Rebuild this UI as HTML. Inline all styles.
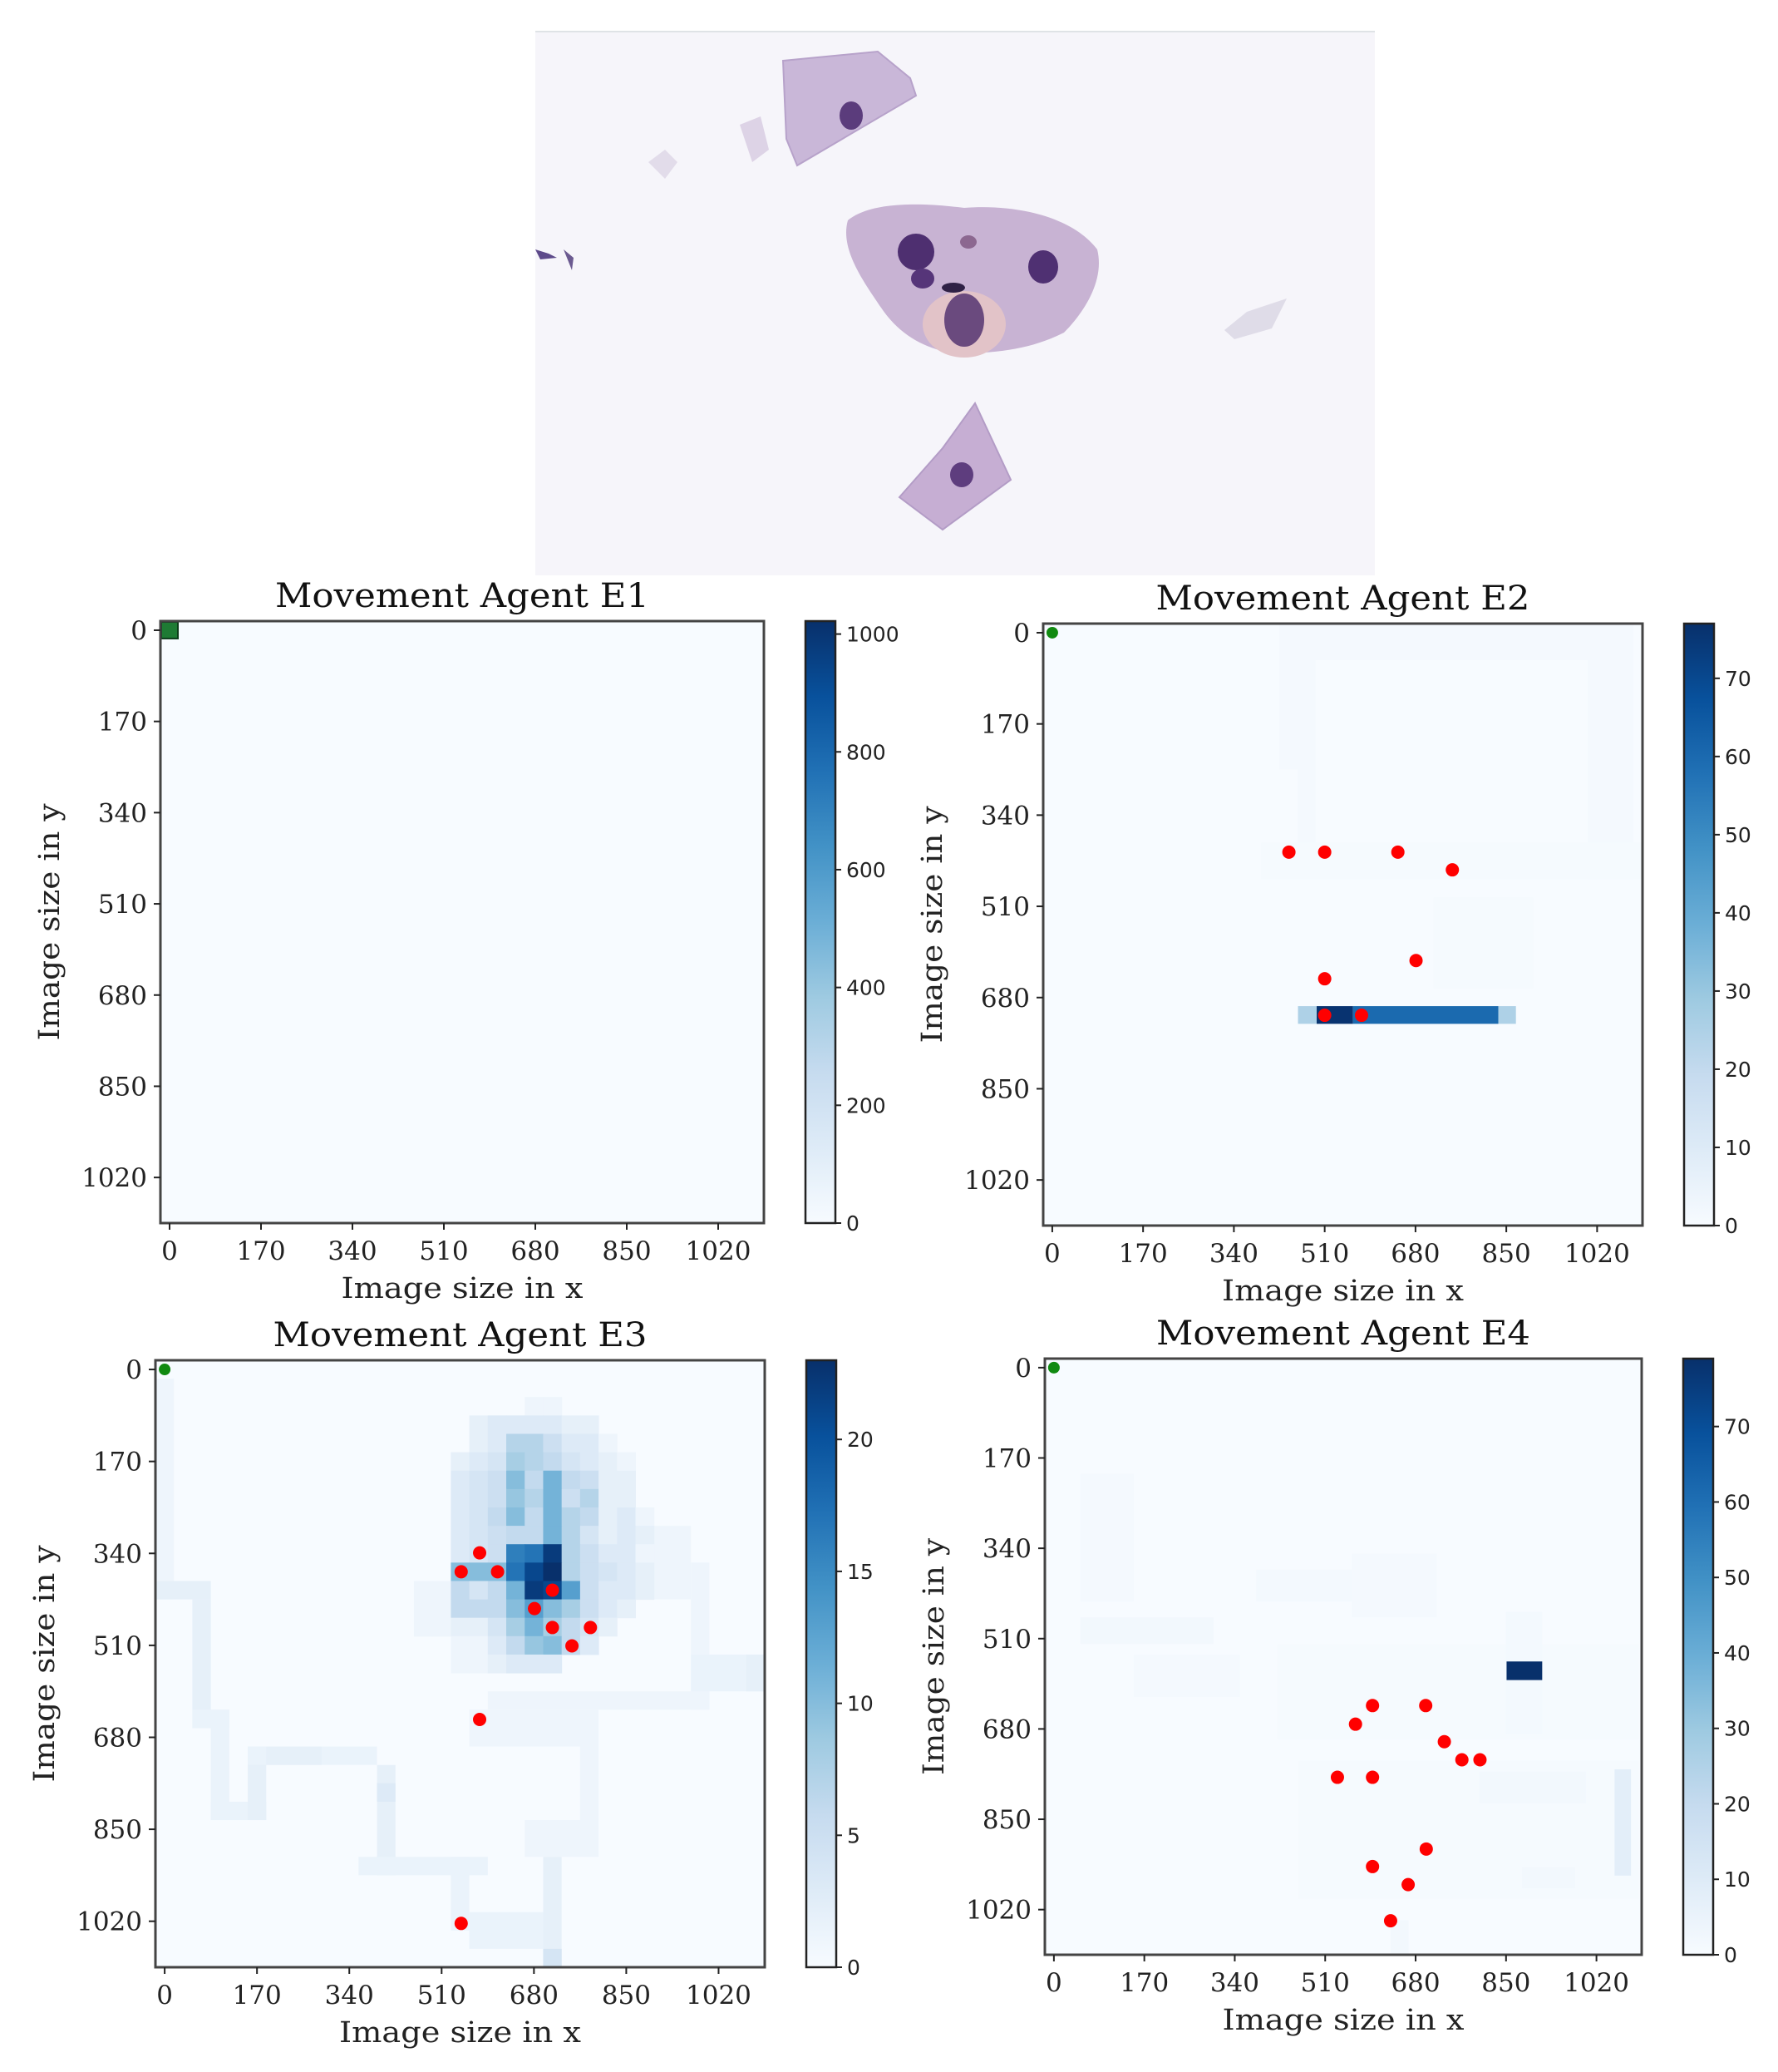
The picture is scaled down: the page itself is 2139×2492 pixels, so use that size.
<!DOCTYPE html>
<html><head><meta charset="utf-8"><style>
html,body{margin:0;padding:0;background:#fff;}
svg{display:block;}
</style></head><body>
<svg id="root" width="2139" height="2492" viewBox="0 0 2139 2492" xmlns="http://www.w3.org/2000/svg">
<g>
  <rect x="644" y="38" width="1010" height="654" fill="#f6f5fa"/>
  <line x1="644" y1="38" x2="1654" y2="38" stroke="#dfe3e6" stroke-width="2"/>
  <polygon points="942,73 1056,62 1095,94 1102,115 959,199 946,167" fill="#c9b7d8" stroke="#b7a2ca" stroke-width="2"/>
  <ellipse cx="1024" cy="139" rx="14" ry="17" fill="#5b3c7c"/>
  <polygon points="890,150 915,140 925,180 905,195" fill="#ddd3e6"/>
  <path d="M1020,265 C1050,240 1120,245 1160,250 C1220,245 1290,260 1320,300 C1330,340 1300,380 1280,400 C1240,420 1200,425 1150,425 C1110,420 1080,400 1060,370 C1040,340 1010,300 1020,265 Z" fill="#c8b3d3"/>
  <ellipse cx="1160" cy="390" rx="50" ry="40" fill="#e2c3c8"/>
  <ellipse cx="1102" cy="303" rx="22" ry="22" fill="#4e2f70"/>
  <ellipse cx="1110" cy="335" rx="14" ry="12" fill="#563579"/>
  <ellipse cx="1255" cy="321" rx="18" ry="20" fill="#4f3072"/>
  <ellipse cx="1160" cy="385" rx="24" ry="32" fill="#6a4a7e"/>
  <ellipse cx="1147" cy="346" rx="14" ry="6" fill="#2f2145"/>
  <ellipse cx="1165" cy="291" rx="10" ry="8" fill="#8c6890"/>
  <polygon points="1082,598 1134,539 1173,485 1216,577 1134,637" fill="#c6aed3" stroke="#b39cc6" stroke-width="2"/>
  <ellipse cx="1157" cy="571" rx="14" ry="15" fill="#5e3d7e"/>
  <polygon points="1473,397 1500,375 1548,359 1530,395 1485,408" fill="#dfdce8"/>
  <polygon points="644,300 660,305 670,310 650,312" fill="#5d4a8a"/>
  <polygon points="678,300 690,310 688,325" fill="#6b5a90"/>
  <polygon points="780,195 800,180 815,195 800,215" fill="#e2dcea"/>
</g>
<g id="plots"></g>
</svg>
<script>
// ---------------- data ----------------
const xTicks = [0,170,340,510,680,850,1020];
const yTicks = [0,170,340,510,680,850,1020];
const e1Ticks = [0,200,400,600,800,1000];
const e2Ticks = [0,10,20,30,40,50,60,70];
const e3Ticks = [0,5,10,15,20];
const e4Ticks = [0,10,20,30,40,50,60,70];
const e1Max = 1022, e2Max = 77, e3Max = 23, e4Max = 79;

// E2 rectangles in data units [x0,y0,x1,y1,value]
const e2Rects = [
  [425,-17,1070,51,1],[425,-17,493,255,1],[459,255,493,391,1],[1003,-17,1088,459,1],
  [391,391,1105,459,0.8],[714,493,900,663,0.7],
  [460,696,495,729,25],[495,696,563,729,76],[563,696,835,729,60],[835,696,868,729,25]
];
const e2DotsX = [443,510,647,749,681,510,510,579];
const e2DotsY = [409,409,409,442,611,645,713,713];

// E3 blob rows: [row, startCol, values...] (cell units of 34)
const e3Rows = [
  [2,20,1,1],
  [3,17,2,3,3,3,3,2,2],
  [4,17,2,3,7,7,5,3,3,1],
  [5,16,2,3,4,8,7,6,4,3,2,1],
  [6,16,3,4,5,10,6,11,6,5,2,2],
  [7,16,3,4,5,9,7,11,5,7,2,2],
  [8,16,3,4,6,10,6,11,7,6,2,3,1],
  [9,16,3,4,5,6,6,11,7,4,2,3,2],
  [10,16,3,4,5,16,17,22,7,5,3,3,1],
  [11,16,10,10,10,17,21,23,7,5,4,3,2],
  [12,14,1,1,6,4,6,11,22,21,13,5,3,3,2],
  [13,16,6,6,6,10,13,10,8,5,3,2],
  [14,14,1,1,2,2,4,8,11,8,6,4,2],
  [15,16,1,1,3,6,9,10,6,3],
  [16,16,1,1,2,3,3,3]
];
// E3 faint path segments [c0,r0,c1,r1,value] (inclusive cells)
const e3Paths = [
  [0,1,0,12,1],[0,12,2,12,2],[2,13,2,19,2],[2,19,3,19,1.5],[3,19,3,24,1.5],[3,24,5,24,1.5],
  [5,21,5,24,2],[5,21,11,21,1.5],[6,21,8,21,2],[12,22,12,27,2],[12,23,12,23,3],[11,27,17,27,1.5],
  [16,27,16,30,1.5],[17,30,20,31,1.5],[21,27,21,32,2],[21,32,21,32,4],[17,19,23,20,1],
  [23,19,23,26,1],[20,25,23,26,1],[29,11,29,18,1],[18,18,29,18,1],[29,16,32,17,1.5],
  [32,16,32,17,2],[14,12,15,14,1],[27,9,28,12,1]
];
const e3DotsX = [580,546,613,714,681,714,784,750,580,546];
const e3DotsY = [339,374,374,408,442,477,477,511,647,1024];

// E4 rectangles in data units [x0,y0,x1,y1,value]
const e4Rects = [
  [50,200,150,440,1],[50,470,300,520,2],[380,380,620,440,1.5],[560,350,720,470,1],
  [420,520,1100,700,0.8],[850,460,918,690,1.5],[150,540,350,620,1],
  [460,740,1100,1000,0.8],[1054,756,1085,956,8],[800,760,1000,820,2],
  [633,1040,667,1105,2],[880,940,980,980,2]
];
const e4Block = [851,553,918,588,79];
const e4DotsX = [599,699,567,734,767,801,533,599,700,599,666,633];
const e4DotsY = [636,636,671,704,738,738,771,771,906,939,973,1041];

// ---------------- rendering ----------------
const NS = 'http://www.w3.org/2000/svg';
const SERIF = '"DejaVu Serif",serif';
const blues = ['#f7fbff','#deebf7','#c6dbef','#9ecae1','#6baed6','#4292c6','#2171b5','#08519c','#08306b'];
function hex(h){return [parseInt(h.slice(1,3),16),parseInt(h.slice(3,5),16),parseInt(h.slice(5,7),16)];}
function cmap(t){
  t=Math.max(0,Math.min(1,t));
  const p=t*8, i=Math.min(7,Math.floor(p)), f=p-i;
  const a=hex(blues[i]), b=hex(blues[i+1]);
  return 'rgb('+a.map((v,k)=>Math.round(v+(b[k]-v)*f)).join(',')+')';
}
function mk(tag, attrs, parent){
  const e=document.createElementNS(NS,tag);
  for(const k in attrs) e.setAttribute(k,attrs[k]);
  parent.appendChild(e); return e;
}
const plots = document.getElementById('plots');
const DMIN=-17, DMAX=1105;

function drawPlot(cfg){
  const g = mk('g',{},plots);
  
  
  const L=cfg.l,T=cfg.t,W=cfg.w,H=cfg.h;
  const sx=v=>L+(v-DMIN)/(DMAX-DMIN)*W;
  const sy=v=>T+(v-DMIN)/(DMAX-DMIN)*H;
  const bg = mk('rect',{x:L,y:T,width:W,height:H,fill:cmap(0)},g);
  
  
  const hm = mk('g',{},g);
  
  
  (cfg.rects||[]).forEach(r=>{
    const c = mk('rect',{x:sx(r[0]),y:sy(r[1]),width:sx(r[2])-sx(r[0]),height:sy(r[3])-sy(r[1]),fill:cmap(r[4]/cfg.max)},hm);
    
    
  });
  (cfg.paths||[]).forEach(p=>{
    const c = mk('rect',{x:sx(p[0]*34-17),y:sy(p[1]*34-17),width:sx((p[2]+1)*34-17)-sx(p[0]*34-17),height:sy((p[3]+1)*34-17)-sy(p[1]*34-17),fill:cmap(p[4]/cfg.max)},hm);
    
    
  });
  (cfg.rows||[]).forEach(r=>{
    const row=r[0], c0=r[1];
    for(let i=2;i<r.length;i++){
      const col=c0+i-2;
      const c = mk('rect',{x:sx(col*34-17),y:sy(row*34-17),width:sx(col*34+17)-sx(col*34-17)+0.5,height:sy(row*34+17)-sy(row*34-17)+0.5,fill:cmap(r[i]/cfg.max)},hm);
      
      
    }
  });
  if(cfg.bigStart){
    const s = mk('rect',{x:sx(-17)+1,y:sy(-17)+1,width:sx(17)-sx(-17)-2,height:sy(17)-sy(-17)-2,fill:'#1e7b34',stroke:'#0c3d1a','stroke-width':2},g);
    
    
  } else {
    const s = mk('circle',{cx:sx(0),cy:sy(0),r:7,fill:'#118a11'},g);
    
    
  }
  (cfg.dx||[]).forEach((x,i)=>{
    const d = mk('circle',{cx:sx(x),cy:sy(cfg.dy[i]),r:8,fill:'#ff0000'},g);
    
    
  });
  const fr = mk('rect',{x:L,y:T,width:W,height:H,fill:'none',stroke:'#444','stroke-width':3},g);
  
  
  xTicks.forEach(v=>{
    const x=sx(v);
    const tk = mk('line',{x1:x,y1:T+H,x2:x,y2:T+H+8,stroke:'#222','stroke-width':2},g);
    
    
    const tl = mk('text',{x:x,y:T+H+44,'text-anchor':'middle','font-family':SERIF,'font-size':31,fill:'#222'},g);
    tl.textContent=v;
    
    
  });
  yTicks.forEach(v=>{
    const y=sy(v);
    const tk = mk('line',{x1:L-8,y1:y,x2:L,y2:y,stroke:'#222','stroke-width':2},g);
    
    
    const tl = mk('text',{x:L-16,y:y+11,'text-anchor':'end','font-family':SERIF,'font-size':31,fill:'#222'},g);
    tl.textContent=v;
    
    
  });
  const xl = mk('text',{x:L+W/2,y:T+H+90,'text-anchor':'middle','font-family':SERIF,'font-size':35,fill:'#222',textLength:291,lengthAdjust:'spacingAndGlyphs'},g);
  xl.textContent='Image size in x';
  
  
  const yx=L-122, yy=T+H/2;
  const yl = mk('text',{x:yx,y:yy,'text-anchor':'middle','font-family':SERIF,'font-size':35,fill:'#222',transform:'rotate(-90 '+yx+' '+yy+')',textLength:285,lengthAdjust:'spacingAndGlyphs'},g);
  yl.textContent='Image size in y';
  
  
  const ti = mk('text',{x:L+W/2,y:T-17,'text-anchor':'middle','font-family':SERIF,'font-size':40,fill:'#111',textLength:450,lengthAdjust:'spacingAndGlyphs'},g);
  ti.textContent=cfg.title;
  
  
  const CL=L+W+50, CW=36;
  const gid='grad-'+cfg.name;
  const defs = mk('defs',{},g);
  const lg = mk('linearGradient',{id:gid,x1:0,y1:1,x2:0,y2:0},defs);
  blues.forEach((c,i)=>mk('stop',{offset:(i/8),'stop-color':c},lg));
  const cb = mk('rect',{x:CL,y:T,width:CW,height:H,fill:'url(#'+gid+')',stroke:'#222','stroke-width':2.5},g);
  
  
  cfg.cticks.forEach(v=>{
    const y=T+H-v/cfg.max*H;
    const tk = mk('line',{x1:CL+CW,y1:y,x2:CL+CW+7,y2:y,stroke:'#222','stroke-width':2},g);
    
    
    const tl = mk('text',{x:CL+CW+13,y:y+9,'font-family':'"DejaVu Sans",sans-serif','font-size':25,fill:'#222'},g);
    tl.textContent=v;
    
    
  });
}

drawPlot({name:'movement-agent-e1',title:'Movement Agent E1',l:193,t:747,w:726,h:724,max:e1Max,cticks:e1Ticks,rects:[],bigStart:true});
drawPlot({name:'movement-agent-e2',title:'Movement Agent E2',l:1255,t:750,w:721,h:724,max:e2Max,cticks:e2Ticks,rects:e2Rects,dx:e2DotsX,dy:e2DotsY});
drawPlot({name:'movement-agent-e3',title:'Movement Agent E3',l:187,t:1636,w:733,h:730,max:e3Max,cticks:e3Ticks,rows:e3Rows,paths:e3Paths,dx:e3DotsX,dy:e3DotsY});
drawPlot({name:'movement-agent-e4',title:'Movement Agent E4',l:1257,t:1634,w:718,h:717,max:e4Max,cticks:e4Ticks,rects:e4Rects.concat([e4Block]),dx:e4DotsX,dy:e4DotsY});
</script>
</body></html>
